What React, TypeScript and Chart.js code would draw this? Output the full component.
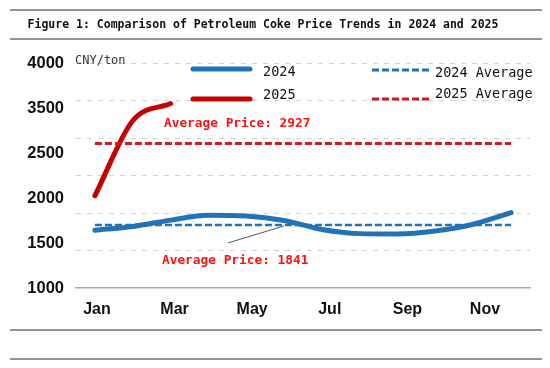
import React, { useEffect, useRef } from 'react';
import { Chart, registerables } from 'chart.js';

Chart.register(...registerables);

// ---------- data ----------
const MONTHS = ['Jan', 'Feb', 'Mar', 'Apr', 'May', 'Jun', 'Jul', 'Aug', 'Sep', 'Oct', 'Nov', 'Dec'];
const PRICE_2024 = [1770, 1820, 1905, 1970, 1960, 1900, 1780, 1725, 1720, 1760, 1850, 2005];
const PRICE_2025 = [2230, 3230, 3460, null, null, null, null, null, null, null, null, null];
const AVG_2024 = [1841, 1841, 1841, 1841, 1841, 1841, 1841, 1841, 1841, 1841, 1841, 1841];
const AVG_2025 = [2927, 2927, 2927, 2927, 2927, 2927, 2927, 2927, 2927, 2927, 2927, 2927];
const Y_TICK_LABELS = ['1000', '1500', '2000', '2500', '3500', '4000'];
const SERIES_NAMES = ['2024', '2025', '2024 Average', '2025 Average'];

const TITLE = 'Figure 1: Comparison of Petroleum Coke Price Trends in 2024 and 2025';
const UNIT = 'CNY/ton';
const AVG_TEXT_2024 = 'Average Price: 1841';
const AVG_TEXT_2025 = 'Average Price: 2927';

const BLUE = '#2272b6';
const RED = '#c40000';
const RED_DASH = '#d11a1f';
const MONO = '"DejaVu Sans Mono", monospace';

const decorPlugin = {
  id: 'decor',
  afterDraw(chart: any) {
    const ctx = chart.ctx as CanvasRenderingContext2D;
    const xs = chart.scales.x;
    const ys = chart.scales.y;
    ctx.save();

    // horizontal rules
    ctx.strokeStyle = '#6f6f6f';
    ctx.lineWidth = 1.5;
    [10, 39, 330, 359].forEach((yy) => {
      ctx.beginPath();
      ctx.moveTo(10, yy);
      ctx.lineTo(542, yy);
      ctx.stroke();
    });

    // title
    ctx.fillStyle = '#111';
    ctx.font = `bold 11.5px ${MONO}`;
    ctx.textAlign = 'center';
    ctx.textBaseline = 'middle';
    ctx.fillText(TITLE, 263, 25);

    // unit
    ctx.fillStyle = '#333';
    ctx.font = `12px ${MONO}`;
    ctx.textAlign = 'left';
    ctx.fillText(UNIT, 75, 61);

    // legend (2 x 2)
    const ds = chart.data.datasets;
    const items = [
      { d: ds[0], lx: 193, ly: 69, tx: 263, ty: 72 },
      { d: ds[1], lx: 193, ly: 99, tx: 263, ty: 95 },
      { d: ds[2], lx: 372, ly: 70, tx: 435, ty: 73 },
      { d: ds[3], lx: 372, ly: 99, tx: 435, ty: 94 },
    ];
    items.forEach((it) => {
      ctx.save();
      ctx.strokeStyle = it.d.borderColor;
      ctx.lineWidth = it.d.borderDash ? 3 : 5;
      ctx.setLineDash(it.d.borderDash || []);
      ctx.lineCap = it.d.borderDash ? 'butt' : 'round';
      ctx.beginPath();
      ctx.moveTo(it.lx, it.ly);
      ctx.lineTo(it.lx + 57, it.ly);
      ctx.stroke();
      ctx.restore();
      ctx.fillStyle = '#111';
      ctx.font = `13.5px ${MONO}`;
      ctx.textAlign = 'left';
      ctx.textBaseline = 'middle';
      ctx.fillText(it.d.label, it.tx, it.ty);
    });

    // average annotations
    const y25 = ys.getPixelForValue(AVG_2025[0]);
    const y24 = ys.getPixelForValue(AVG_2024[0]);
    ctx.fillStyle = '#ff1010';
    ctx.font = `bold 12.8px ${MONO}`;
    ctx.textAlign = 'left';
    ctx.textBaseline = 'middle';
    ctx.fillText(AVG_TEXT_2025, xs.left + 88, y25 - 20);
    ctx.fillText(AVG_TEXT_2024, xs.left + 86, y24 + 36);

    // pointer line to the 2024 average
    const px = xs.getPixelForValue(5);
    ctx.strokeStyle = '#444';
    ctx.lineWidth = 0.9;
    ctx.beginPath();
    ctx.moveTo(px - 56, y24 + 18);
    ctx.lineTo(px, y24 + 1);
    ctx.stroke();

    ctx.restore();
  },
};

export default function App() {
  const ref = useRef<HTMLCanvasElement | null>(null);

  useEffect(() => {
    if (!ref.current) return;
    const chart = new Chart(ref.current, {
      type: 'line',
      data: {
        labels: MONTHS,
        datasets: [
          {
            label: SERIES_NAMES[0],
            data: PRICE_2024,
            borderColor: BLUE,
            borderWidth: 5,
            pointRadius: 0,
            cubicInterpolationMode: 'monotone',
            borderCapStyle: 'round',
            order: 3,
          },
          {
            label: SERIES_NAMES[1],
            data: PRICE_2025,
            borderColor: RED,
            borderWidth: 5,
            pointRadius: 0,
            cubicInterpolationMode: 'monotone',
            borderCapStyle: 'round',
            spanGaps: false,
            order: 4,
          },
          {
            label: SERIES_NAMES[2],
            data: AVG_2024,
            borderColor: BLUE,
            borderWidth: 2.6,
            borderDash: [7, 3],
            pointRadius: 0,
            order: 1,
          },
          {
            label: SERIES_NAMES[3],
            data: AVG_2025,
            borderColor: RED_DASH,
            borderWidth: 3,
            borderDash: [7, 3],
            pointRadius: 0,
            order: 2,
          },
        ],
      } as any,
      options: {
        animation: false,
        responsive: false,
        devicePixelRatio: 1,
        layout: { padding: { top: 63, right: 20, bottom: 0, left: 0 } },
        plugins: {
          legend: { display: false },
          title: { display: false },
          tooltip: { enabled: false },
        },
        scales: {
          x: {
            type: 'category',
            offset: true,
            grid: { display: false, drawTicks: false },
            border: { display: true, color: '#a8a8a8', width: 1.5 },
            ticks: { display: false },
            afterFit: (s: any) => {
              s.height = 0;
            },
          },
          xl: {
            type: 'linear',
            position: 'bottom',
            min: -0.54,
            max: 11.16,
            grid: { display: false, drawTicks: false },
            border: { display: false },
            ticks: {
              stepSize: 2,
              includeBounds: false,
              autoSkip: false,
              maxRotation: 0,
              padding: 12,
              color: '#111',
              font: { family: 'Liberation Sans', weight: 'bold', size: 16 },
              callback: (v: any) => (Number.isInteger(v) ? MONTHS[v as number] ?? '' : ''),
            },
            afterFit: (s: any) => {
              s.height = 80;
            },
          },
          y: {
            type: 'linear',
            position: 'left',
            min: 1000,
            max: 4000,
            ticks: { display: false, stepSize: 500 },
            grid: {
              drawTicks: false,
              lineWidth: 1,
              color: (c: any) => (c.tick && c.tick.value === 1000 ? 'rgba(0,0,0,0)' : '#d2d2d2'),
            },
            border: { display: false, dash: [5, 6] },
            afterFit: (s: any) => {
              s.width = 0;
            },
          },
          yl: {
            type: 'linear',
            position: 'left',
            min: 0,
            max: Y_TICK_LABELS.length - 1,
            grid: { display: false, drawTicks: false },
            border: { display: false },
            ticks: {
              stepSize: 1,
              padding: 12,
              color: '#111',
              font: { family: 'Liberation Sans', weight: 'bold', size: 16.5 },
              callback: (v: any) => Y_TICK_LABELS[v as number] ?? '',
            },
            afterFit: (s: any) => {
              s.width = 76;
            },
          },
        },
      } as any,
      plugins: [decorPlugin],
    });
    return () => chart.destroy();
  }, []);

  return (
    <div style={{ position: 'absolute', left: 0, top: 0, width: 550, height: 368, background: '#fff' }}>
      <canvas ref={ref} width={550} height={368} style={{ display: 'block', width: 550, height: 368 }} />
    </div>
  );
}
